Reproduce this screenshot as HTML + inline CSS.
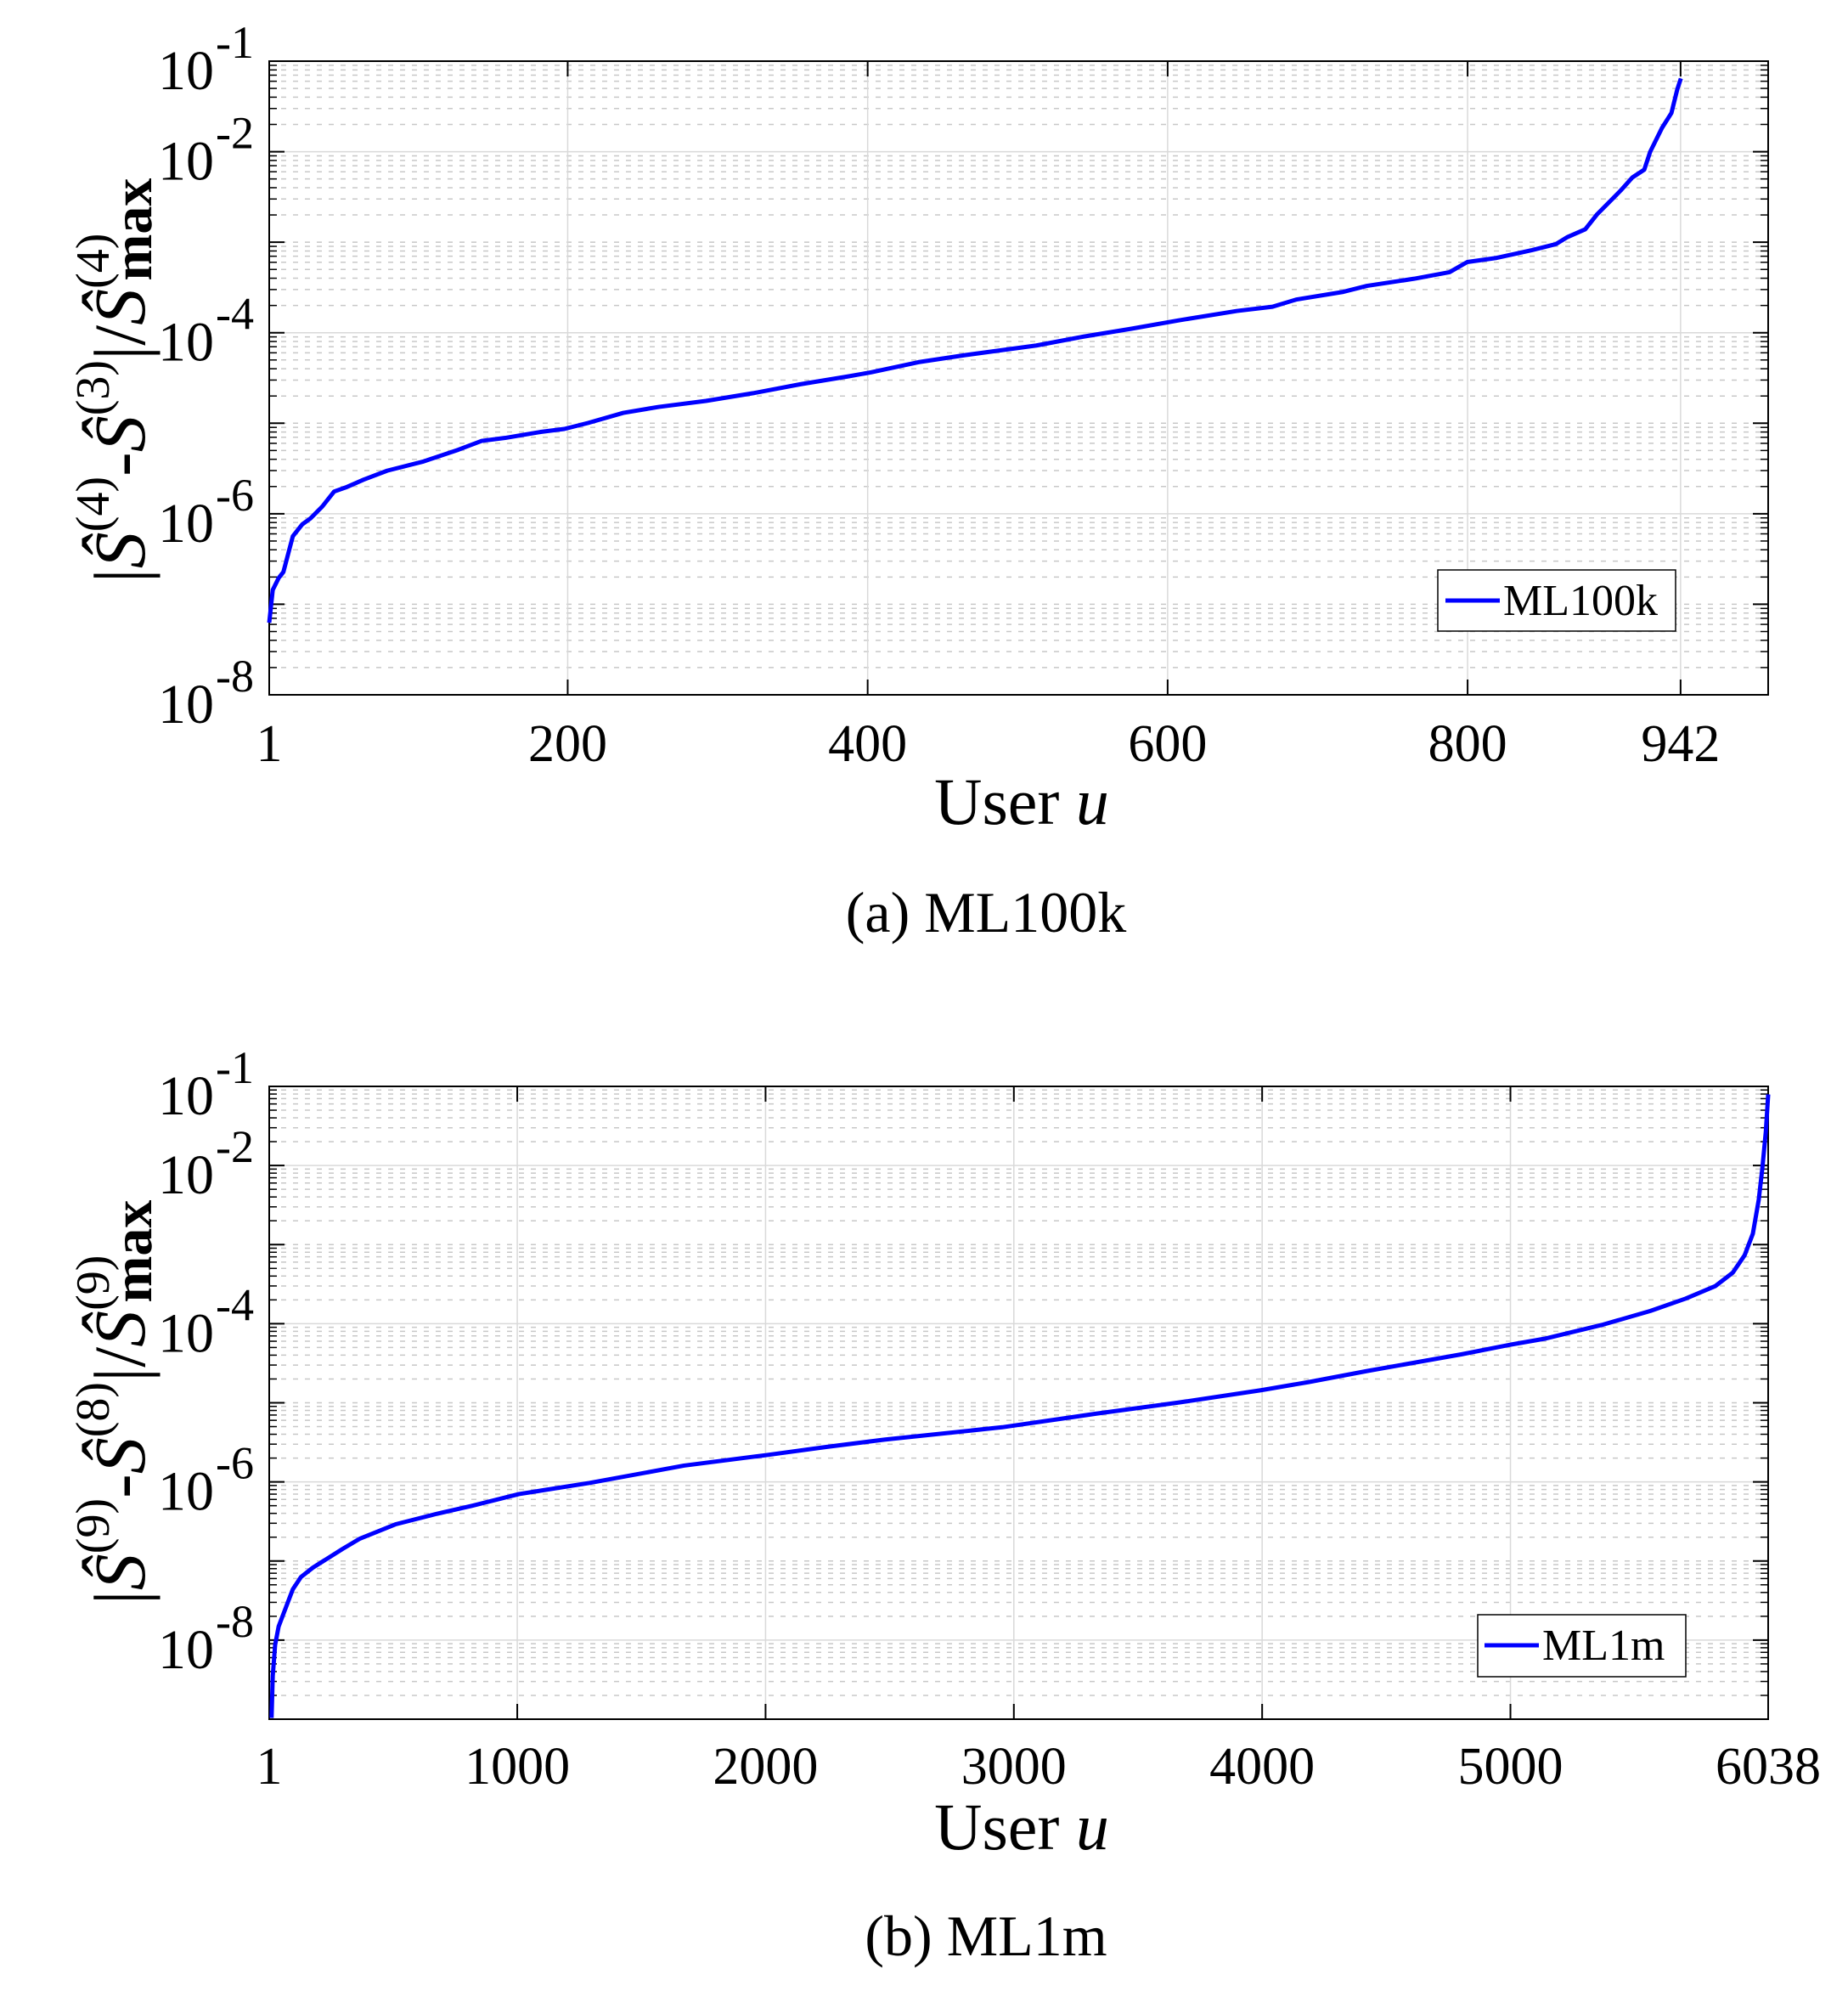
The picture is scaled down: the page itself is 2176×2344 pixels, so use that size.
<!DOCTYPE html>
<html><head><meta charset="utf-8"><style>
html,body{margin:0;padding:0;background:#fff}
svg{display:block}
text{font-family:"Liberation Serif",serif;fill:#000}
</style></head><body>
<svg id="s" width="2176" height="2344" viewBox="0 0 2176 2344" xmlns="http://www.w3.org/2000/svg">
<g id="g1"></g>
<g id="g2"></g>
<g transform="translate(-2.654,-0.2854) scale(1.3898,0.7018)">
<polyline fill="none" stroke="#0000ff" stroke-width="5" vector-effect="non-scaling-stroke" stroke-linejoin="round" points="230,1045 233,990 238,970 242,960 246,930 250,900 258,880 265,870 275,850 285,825 295,818 310,805 330,790 360,775 390,755 410,740 430,735 460,725 480,720 500,710 530,693 560,683 600,673 640,660 680,645 720,632 740,625 780,608 820,596 850,588 880,580 920,565 960,552 1000,538 1050,522 1080,515 1100,503 1140,490 1160,480 1200,468 1230,457 1245,440 1270,433 1300,420 1320,410 1330,398 1345,385 1355,360 1365,340 1375,320 1385,298 1395,285 1400,255 1410,215 1418,190 1423,150 1426,132"/>
</g>
<g transform="translate(0.6272,1201.07) scale(1.3876,0.7283)">
<polyline fill="none" stroke="#0000ff" stroke-width="5" vector-effect="non-scaling-stroke" stroke-linejoin="round" points="230,1128 231,1060 233,1010 236,980 240,960 248,920 255,900 265,885 290,855 305,838 335,815 370,798 400,785 440,766 500,748 580,720 650,703 700,690 750,678 850,658 930,636 1000,618 1070,598 1110,585 1160,567 1240,540 1280,525 1310,515 1360,492 1400,470 1430,450 1455,430 1470,408 1480,380 1487,345 1492,290 1495,240 1498,180 1500,120"/>
</g>
<rect x="1693" y="671" width="280" height="72" fill="#fff" stroke="#000" stroke-width="1.5"/>
<line x1="1702" y1="707" x2="1766" y2="707" stroke="#0000ff" stroke-width="5"/>
<text x="1770" y="724" font-size="52">ML100k</text>
<rect x="1740" y="1901" width="245" height="73" fill="#fff" stroke="#000" stroke-width="1.5"/>
<line x1="1748" y1="1937" x2="1812" y2="1937" stroke="#0000ff" stroke-width="5"/>
<text x="1816" y="1954" font-size="52">ML1m</text>
<text x="1203" y="970" font-size="78" text-anchor="middle">User <tspan font-style="italic">u</tspan></text>
<text x="1203" y="2177" font-size="78" text-anchor="middle">User <tspan font-style="italic">u</tspan></text>
<text x="1161" y="1097" font-size="68" text-anchor="middle">(a)  ML100k</text>
<text x="1161" y="2302" font-size="68" text-anchor="middle">(b)  ML1m</text>
<text transform="translate(170,448) rotate(-90)" font-size="86" text-anchor="middle">|<tspan font-style="italic">Ŝ</tspan><tspan font-size="56" dy="-42">(4)</tspan><tspan dy="42">-</tspan><tspan font-style="italic">Ŝ</tspan><tspan font-size="56" dy="-42">(3)</tspan><tspan dy="42">|/</tspan><tspan font-style="italic">Ŝ</tspan><tspan font-size="56" dy="-42">(4)</tspan><tspan font-size="66" font-weight="bold" dx="-56" dy="50">max</tspan></text>
<text transform="translate(170,1651) rotate(-90)" font-size="86" text-anchor="middle">|<tspan font-style="italic">Ŝ</tspan><tspan font-size="56" dy="-42">(9)</tspan><tspan dy="42">-</tspan><tspan font-style="italic">Ŝ</tspan><tspan font-size="56" dy="-42">(8)</tspan><tspan dy="42">|/</tspan><tspan font-style="italic">Ŝ</tspan><tspan font-size="56" dy="-42">(9)</tspan><tspan font-size="66" font-weight="bold" dx="-56" dy="50">max</tspan></text>
</svg>
<script>
var NS="http://www.w3.org/2000/svg";
function el(p,t,a,txt){var e=document.createElementNS(NS,t);for(var k in a)e.setAttribute(k,a[k]);if(txt!==undefined)e.textContent=txt;p.appendChild(e);return e;}
function plot(g,L,R,T,B,dmin,dmax,xt,xmin,xmax,ylab,xlabY){
 var dec=(B-T)/(dmax-dmin);
 function Y(v){return B-(v-dmin)*dec;}
 function X(v){return L+(v-xmin)/(xmax-xmin)*(R-L);}
 el(g,"rect",{x:L,y:T,width:R-L,height:B-T,fill:"#fff"});
 for(var d=dmin;d<dmax;d++){for(var k=2;k<=9;k++){var y=Y(d+Math.log10(k));
  el(g,"line",{x1:L,x2:R,y1:y,y2:y,stroke:"#c8c8c8","stroke-width":1.5,"stroke-dasharray":"6 8"});
  el(g,"line",{x1:L,x2:L+9,y1:y,y2:y,stroke:"#000","stroke-width":1.5});
  el(g,"line",{x1:R,x2:R-9,y1:y,y2:y,stroke:"#000","stroke-width":1.5});}}
 for(var d=dmin+1;d<dmax;d++){var y=Y(d);var lab=ylab.indexOf(d)>=0;
  if(lab){el(g,"line",{x1:L,x2:R,y1:y,y2:y,stroke:"#d9d9d9","stroke-width":1.5});}
  else el(g,"line",{x1:L,x2:R,y1:y,y2:y,stroke:"#c8c8c8","stroke-width":1.5,"stroke-dasharray":"6 8"});
  el(g,"line",{x1:L,x2:L+18,y1:y,y2:y,stroke:"#000","stroke-width":2});
  el(g,"line",{x1:R,x2:R-18,y1:y,y2:y,stroke:"#000","stroke-width":2});}
 for(var i=0;i<xt.length;i++){var x=X(xt[i]);
  if(i>0&&x<R-2)el(g,"line",{x1:x,x2:x,y1:T,y2:B,stroke:"#d9d9d9","stroke-width":1.5});
  el(g,"line",{x1:x,x2:x,y1:B,y2:B-18,stroke:"#000","stroke-width":2});
  el(g,"line",{x1:x,x2:x,y1:T,y2:T+18,stroke:"#000","stroke-width":2});
  el(g,"text",{x:x,y:xlabY,"font-size":62,"text-anchor":"middle"},String(xt[i]));}
 el(g,"rect",{x:L,y:T,width:R-L,height:B-T,fill:"none",stroke:"#000","stroke-width":2});
 for(var j=0;j<ylab.length;j++){var y=Y(ylab[j]);
  el(g,"text",{x:252,y:y+33,"font-size":66,"text-anchor":"end"},"10");
  el(g,"text",{x:254,y:y-4,"font-size":54},"-"+(-ylab[j]));}
}
plot(document.getElementById("g1"),317,2082,72,818,-8,-1,[1,200,400,600,800,942],1,1000.4,[-1,-2,-4,-6,-8],896);
plot(document.getElementById("g2"),317,2082,1279,2024,-9,-1,[1,1000,2000,3000,4000,5000,6038],1,6038,[-1,-2,-4,-6,-8],2100);
</script>
</body></html>
